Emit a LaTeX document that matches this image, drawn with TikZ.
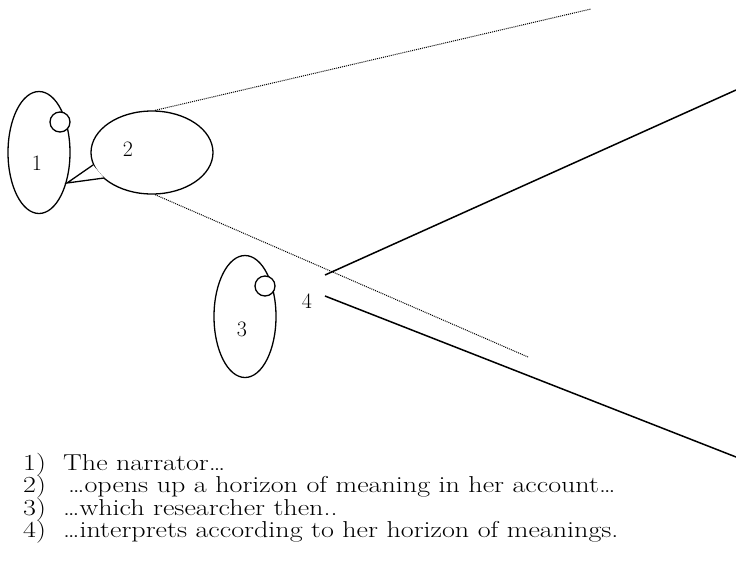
\documentclass[tikz,border=0pt]{standalone}
\usepackage{fontspec}
\setmainfont{Latin Modern Roman}
\newfontfamily\legendfont[FakeStretch=1.22]{Latin Modern Roman}
\usetikzlibrary{shapes.geometric}
\begin{document}
\begin{tikzpicture}[x=1pt,y=-1pt,
  person/.style={draw,line width=1.3pt,ellipse,inner sep=0pt,minimum width=62pt,minimum height=122pt},
  head/.style={draw,line width=1.3pt,circle,fill=white,inner sep=0pt,minimum size=20pt},
  lbl/.style={font=\fontsize{22}{22}\selectfont,inner sep=0pt},
  dots/.style={line width=1pt,dash pattern=on 1pt off 1pt},
  horizon/.style={line width=1.5pt},
  item/.style={font=\legendfont\fontsize{23}{23}\selectfont,inner sep=0pt,anchor=base west}]
\useasboundingbox (0,0) rectangle (736,566);
% narrator
\node[person] (p1) at (39,152.5) {};
\node[head] (h1) at (60,122) {};
\node[lbl] (l1) at (37,163) {1};
% speech bubble
\node[draw,line width=1.3pt,ellipse,inner sep=0pt,minimum width=122pt,minimum height=83pt] (b2) at (152,152.5) {};
\node[lbl] (l2) at (128,149) {2};
\coordinate (t1) at (93,165);
\coordinate (t2) at (67,183);
\coordinate (t3) at (104,178);
\draw[line width=1.3pt,fill=white,line join=miter] (t1) -- (t2) -- (t3);
% horizon of meaning
\coordinate (d1) at (591,9);
\coordinate (d2) at (528,357);
\draw[dots] (b2.north) ++(3,0) coordinate (b2n) -- (d1);
\draw[dots] (b2.south) ++(3,0) coordinate (b2s) -- (d2);
% researcher
\node[person] (p3) at (245,316.5) {};
\node[head] (h3) at (265,286) {};
\node[lbl] (l3) at (242,329) {3};
\node[lbl] (l4) at (307,301) {4};
\coordinate (s1) at (325,275);
\coordinate (e1) at (736,90);
\coordinate (s2) at (325,296);
\coordinate (e2) at (736,457);
\draw[horizon] (s1) -- (e1);
\draw[horizon] (s2) -- (e2);
% legend
\node[item] (n1) at (23,470) {1)};
\node[item] (i1) at (63,470) {The narrator…};
\node[item] (n2) at (23,492.5) {2)};
\node[item] (i2) at (68,492.5) {…opens up a horizon of meaning in her account…};
\node[item] (n3) at (23,515) {3)};
\node[item] (i3) at (63,515) {…which researcher then..};
\node[item] (n4) at (23,537.5) {4)};
\node[item] (i4) at (63,537.5) {…interprets according to her horizon of meanings.};
\end{tikzpicture}
\end{document}
